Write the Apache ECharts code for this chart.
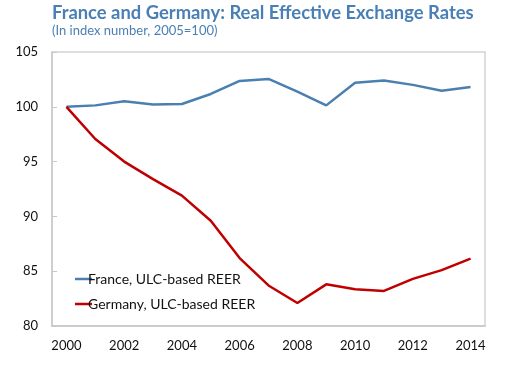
<!DOCTYPE html>
<html><head><meta charset="utf-8">
<script src="https://cdn.jsdelivr.net/npm/echarts@6/dist/echarts.min.js"></script>
<style>html,body{margin:0;padding:0;background:#fff}#c{width:514px;height:369px}</style>
</head><body><div id="c"></div>
<script>
const years = ['2000','2001','2002','2003','2004','2005','2006','2007','2008','2009','2010','2011','2012','2013','2014'];
const france = [100.0,100.13,100.5,100.2,100.26,101.17,102.36,102.54,101.38,100.13,102.2,102.4,102.0,101.47,101.8];
const germany = [100.0,97.06,95.0,93.4,91.9,89.6,86.2,83.7,82.1,83.8,83.35,83.2,84.3,85.1,86.15];
const seriesNames = ['France, ULC-based REER','Germany, ULC-based REER'];
const titleText = 'France and Germany: Real Effective Exchange Rates';
const subtitleText = '(In index number, 2005=100)';

const chart = echarts.init(document.getElementById('c'), null, {renderer:'canvas'});
const font = 'Lato, "Open Sans", sans-serif';
chart.setOption({
  animation:false,
  title:{
    text:titleText, subtext:subtitleText, left:47, top:-1,
    textStyle:{fontFamily:font,fontSize:18.4,fontWeight:'bold',color:'#4a7fb5'},
    subtextStyle:{fontFamily:font,fontSize:13,color:'#4a7fb5'},
    itemGap:2
  },
  grid:{left:52,top:52,right:29,bottom:43,show:true,borderColor:'#d4d4d4',borderWidth:1.5},
  legend:{
    orient:'vertical', left:70, top:267, itemGap:11,
    icon:'rect', itemWidth:17, itemHeight:2.5,
    textStyle:{fontFamily:font,fontSize:14,color:'#111',padding:[0,0,0,-9]},
    data:seriesNames
  },
  xAxis:{
    type:'category', data:years, boundaryGap:true,
    axisLine:{lineStyle:{color:'#c8c8c8',width:1.5}},
    axisTick:{inside:true,length:5,lineStyle:{color:'#c8c8c8'}},
    axisLabel:{interval:1,fontFamily:font,fontSize:13,color:'#111',margin:13},
    splitLine:{show:false}
  },
  yAxis:{
    type:'value', min:80, max:105, interval:5,
    axisLine:{show:true,lineStyle:{color:'#c8c8c8',width:1.5}},
    axisTick:{show:true,inside:true,length:5,lineStyle:{color:'#c8c8c8'}},
    axisLabel:{fontFamily:font,fontSize:13,color:'#111',margin:14},
    splitLine:{show:false}
  },
  series:[
    {name:seriesNames[0],type:'line',data:france,showSymbol:false,symbol:'none',
     lineStyle:{width:2.5,color:'#4a7fb0'},itemStyle:{color:'#4a7fb0'}},
    {name:seriesNames[1],type:'line',data:germany,showSymbol:false,symbol:'none',
     lineStyle:{width:2.5,color:'#c00000'},itemStyle:{color:'#c00000'}}
  ]
});
</script></body></html>
